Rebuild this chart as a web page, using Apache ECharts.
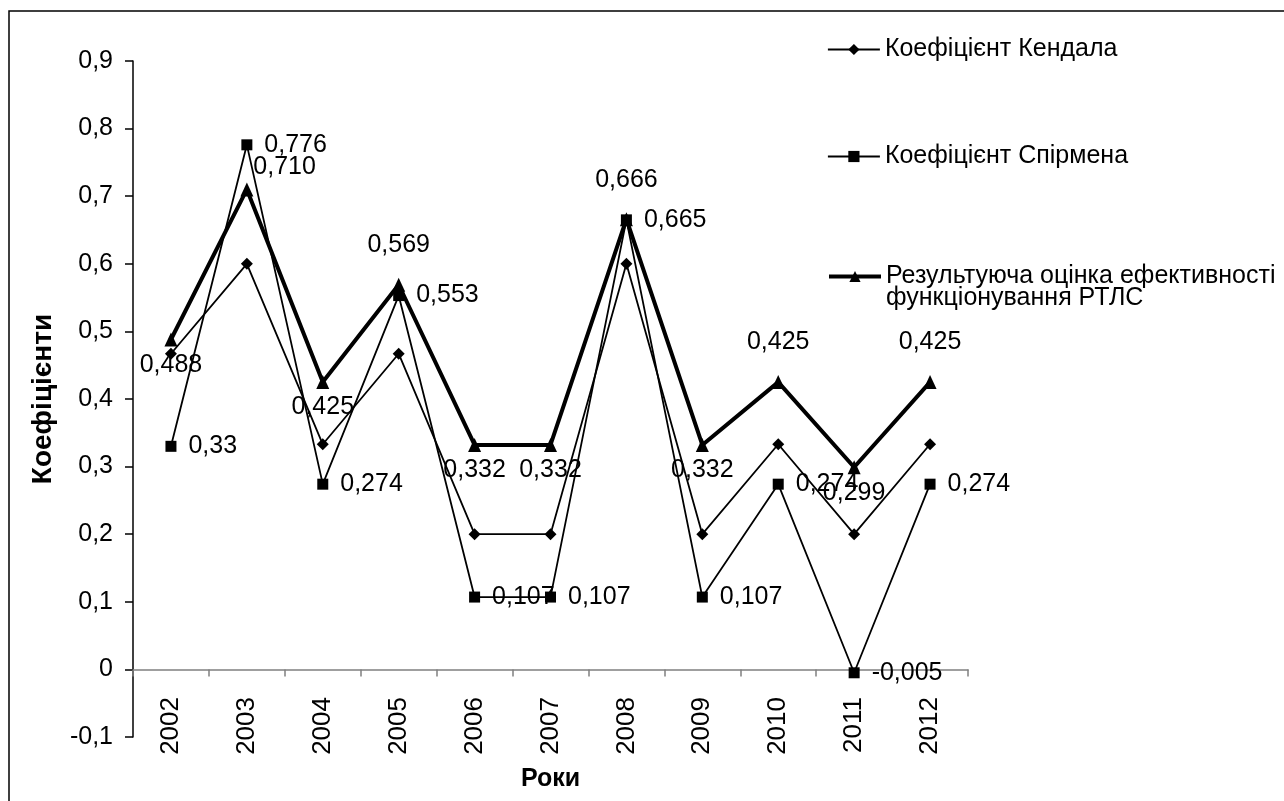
<!DOCTYPE html>
<html>
<head>
<meta charset="utf-8">
<script src="https://cdn.jsdelivr.net/npm/echarts@6/dist/echarts.min.js"></script>
<style>
  html, body { margin: 0; padding: 0; background: #fff; }
  #chart { width: 1284px; height: 801px; }
</style>
</head>
<body>
<div id="chart"></div>
<script>
// роки
const years = ['2002', '2003', '2004', '2005', '2006', '2007', '2008', '2009', '2010', '2011', '2012'];
// коефіцієнти
const kendall = [0.467, 0.6, 0.333, 0.467, 0.2, 0.2, 0.6, 0.2, 0.333, 0.2, 0.333];
const spearman = [0.33, 0.776, 0.274, 0.553, 0.107, 0.107, 0.665, 0.107, 0.274, -0.005, 0.274];
const result = [0.488, 0.710, 0.425, 0.569, 0.332, 0.332, 0.666, 0.332, 0.425, 0.299, 0.425];
const yTicks = [-0.1, 0.9, 0.1]; // min, max, interval

const names = ['Коефіцієнт Кендала', 'Коефіцієнт Спірмена', 'Результуюча оцінка ефективності\nфункціонування РТЛС'];

// де стоять підписи результуючої оцінки
const resultLabelPos = ['bottom', 'right', 'bottom', 'top', 'bottom', 'bottom', 'top', 'bottom', 'top', 'bottom', 'top'];

const FONT = '"Liberation Sans", Arial, sans-serif';
const comma = v => String(v).replace('.', ',');

const legendBase = {
    orient: 'vertical',
    left: 827,
    padding: 0,
    itemWidth: 52,
    itemHeight: 14,
    itemGap: 0,
    textStyle: { fontFamily: FONT, fontSize: 25, color: '#000', lineHeight: 22 },
    inactiveColor: '#000'
};

const chart = echarts.init(document.getElementById('chart'));
chart.setOption({
    backgroundColor: '#fff',
    animation: false,
    textStyle: { fontFamily: FONT },
    graphic: [{
        type: 'rect',
        shape: { x: 9, y: 11, width: 1300, height: 820 },
        style: { fill: 'none', stroke: '#000', lineWidth: 1.5 },
        silent: true
    }],
    legend: [
        Object.assign({}, legendBase, { data: [names[0]], top: 37, lineStyle: { width: 1.8 } }),
        Object.assign({}, legendBase, { data: [names[1]], top: 144, lineStyle: { width: 1.8 } }),
        Object.assign({}, legendBase, {
            data: [names[2]], top: 242,
            lineStyle: { width: 4 },
            formatter: n => '\n' + n
        })
    ],
    grid: { left: 133, right: 316, top: 61, bottom: 64, outerBoundsMode: 'none', containLabel: false },
    xAxis: {
        type: 'category',
        data: years,
        boundaryGap: true,
        name: 'Роки',
        nameLocation: 'middle',
        nameGap: 30,
        nameTextStyle: { fontFamily: FONT, fontSize: 25, fontWeight: 'bold', color: '#000' },
        axisLine: { onZero: true, lineStyle: { color: '#808080', width: 1.5 } },
        axisTick: { show: true, length: 7, alignWithLabel: false, lineStyle: { color: '#808080', width: 1.5 } },
        axisLabel: { rotate: 90, margin: -40, fontSize: 26, color: '#000', fontFamily: FONT, interval: 0 },
        splitLine: { show: false }
    },
    yAxis: {
        type: 'value',
        min: yTicks[0],
        max: yTicks[1],
        interval: yTicks[2],
        name: 'Коефіцієнти',
        nameLocation: 'middle',
        nameRotate: 90,
        nameGap: 76,
        nameTextStyle: { fontFamily: FONT, fontSize: 28, fontWeight: 'bold', color: '#000' },
        axisLine: { show: true, lineStyle: { color: '#000', width: 1.5 } },
        axisTick: { show: true, length: 8, lineStyle: { color: '#000', width: 1.5 } },
        axisLabel: {
            margin: 20, fontSize: 25, color: '#000', fontFamily: FONT,
            formatter: v => {
                const r = Math.round(v * 10) / 10;
                return r === 0 ? '0' : r.toFixed(1).replace('.', ',');
            }
        },
        splitLine: { show: false }
    },
    series: [
        {
            name: names[0],
            type: 'line',
            data: kendall,
            symbol: 'diamond',
            symbolSize: 12,
            itemStyle: { color: '#000' },
            lineStyle: { color: '#000', width: 1.8 }
        },
        {
            name: names[1],
            type: 'line',
            data: spearman,
            symbol: 'rect',
            symbolSize: 11,
            itemStyle: { color: '#000' },
            lineStyle: { color: '#000', width: 1.8 },
            label: {
                show: true, position: 'right', distance: 12,
                fontSize: 25, color: '#000', fontFamily: FONT,
                formatter: p => comma(p.value)
            }
        },
        {
            name: names[2],
            type: 'line',
            data: result.map((v, i) => ({
                value: v,
                label: resultLabelPos[i] === 'right'
                    ? { position: 'right', distance: 0, offset: [0, -22] }
                    : { position: resultLabelPos[i], distance: resultLabelPos[i] === 'top' ? 20 : 6 }
            })),
            symbol: 'triangle',
            symbolSize: [13, 14],
            itemStyle: { color: '#000' },
            lineStyle: { color: '#000', width: 4 },
            label: {
                show: true,
                fontSize: 25, color: '#000', fontFamily: FONT,
                formatter: p => p.value.toFixed(3).replace('.', ',')
            }
        }
    ]
});
</script>
</body>
</html>
